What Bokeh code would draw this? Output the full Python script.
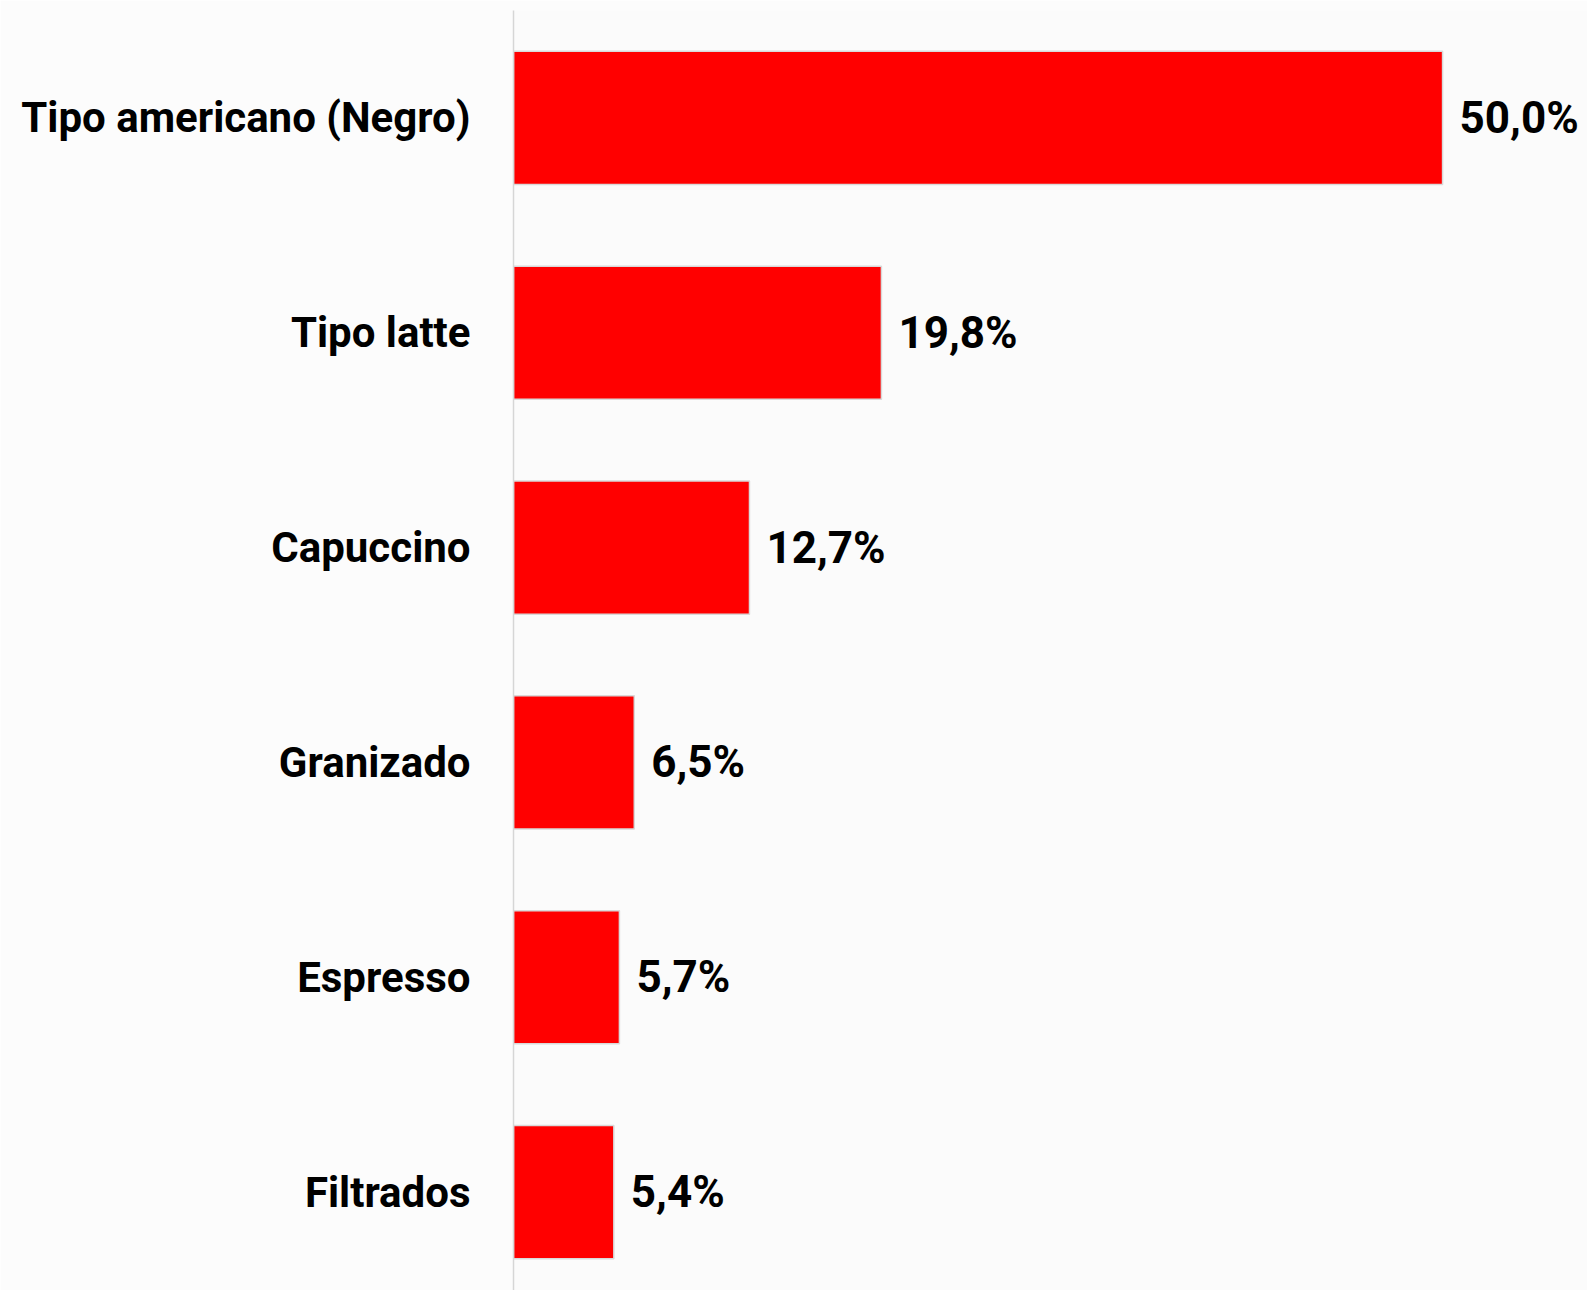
from bokeh.plotting import figure
from bokeh.models import Range1d, ColumnDataSource, FixedTicker
from bokeh.core.properties import value
from bokeh.embed import file_html
from bokeh.resources import INLINE

categories = ["Tipo americano (Negro)", "Tipo latte", "Capuccino", "Granizado", "Espresso", "Filtrados"]
values = [50.0, 19.8, 12.7, 6.5, 5.7, 5.4]
value_labels = [f"{v:.1f}".replace(".", ",") + "%" for v in values]

positions = list(range(len(categories)))
src = ColumnDataSource(dict(y=positions, v=values, lab=value_labels))

FONT = "Roboto"

p = figure(
    output_backend="svg", toolbar_location=None,
    frame_width=1074, frame_height=1280,
    x_range=Range1d(0, 57.80), y_range=Range1d(5.4581, -0.5),
    min_border_left=513, min_border_right=0, min_border_top=10, min_border_bottom=0,
    background_fill_color="#fbfbfb", border_fill_color="#fcfcfc",
)
p.outline_line_color = None
p.xgrid.visible = False
p.ygrid.visible = False
p.xaxis.visible = False

p.hbar(y="y", right="v", left=0, height=0.62, source=src,
       fill_color="#ff0000", line_color="#d9d9d9", line_width=1.5)

p.text(x="v", y="y", text="lab", source=src, x_offset=17,
       text_align="left", text_baseline="middle",
       text_font=value(FONT), text_font_style="bold", text_font_size="44px",
       text_color="#000000")

ax = p.yaxis[0]
ax.ticker = FixedTicker(ticks=positions)
ax.major_label_overrides = {i: c for i, c in zip(positions, categories)}
ax.major_tick_line_color = None
ax.minor_tick_line_color = None
ax.major_tick_out = 0
ax.major_tick_in = 0
ax.axis_line_color = "#d6d6d6"
ax.axis_line_width = 1.5
ax.major_label_standoff = 43
ax.major_label_text_font = FONT
ax.major_label_text_font_style = "bold"
ax.major_label_text_font_size = "42px"
ax.major_label_text_color = "#000000"

open("out.html", "w").write(file_html(p, INLINE))
